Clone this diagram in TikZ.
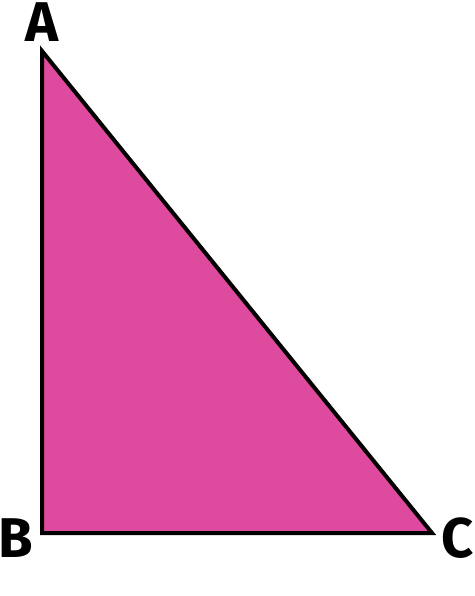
\documentclass[tikz,border=0pt]{standalone}
\usepackage{fontspec}
\setmainfont{Fira Sans}
\definecolor{tripink}{HTML}{DD4A9E}
\begin{document}
\begin{tikzpicture}[x=1pt,y=-1pt,
  vlabel/.style={font=\fontsize{56}{56}\selectfont\bfseries, inner sep=0pt, anchor=base}]
\useasboundingbox[fill=white] (0,0) rectangle (474,596);
\coordinate (A) at (42,51);
\coordinate (B) at (42,533);
\coordinate (C) at (432,533);
\filldraw[fill=tripink, draw=black, line width=4pt, line join=miter] (A) -- (B) -- (C) -- cycle;
\node[vlabel] (la) at (42,42) {A};
\node[vlabel] (lb) at (16,557) {B};
\node[vlabel] (lc) at (458,557) {C};
\end{tikzpicture}
\end{document}
